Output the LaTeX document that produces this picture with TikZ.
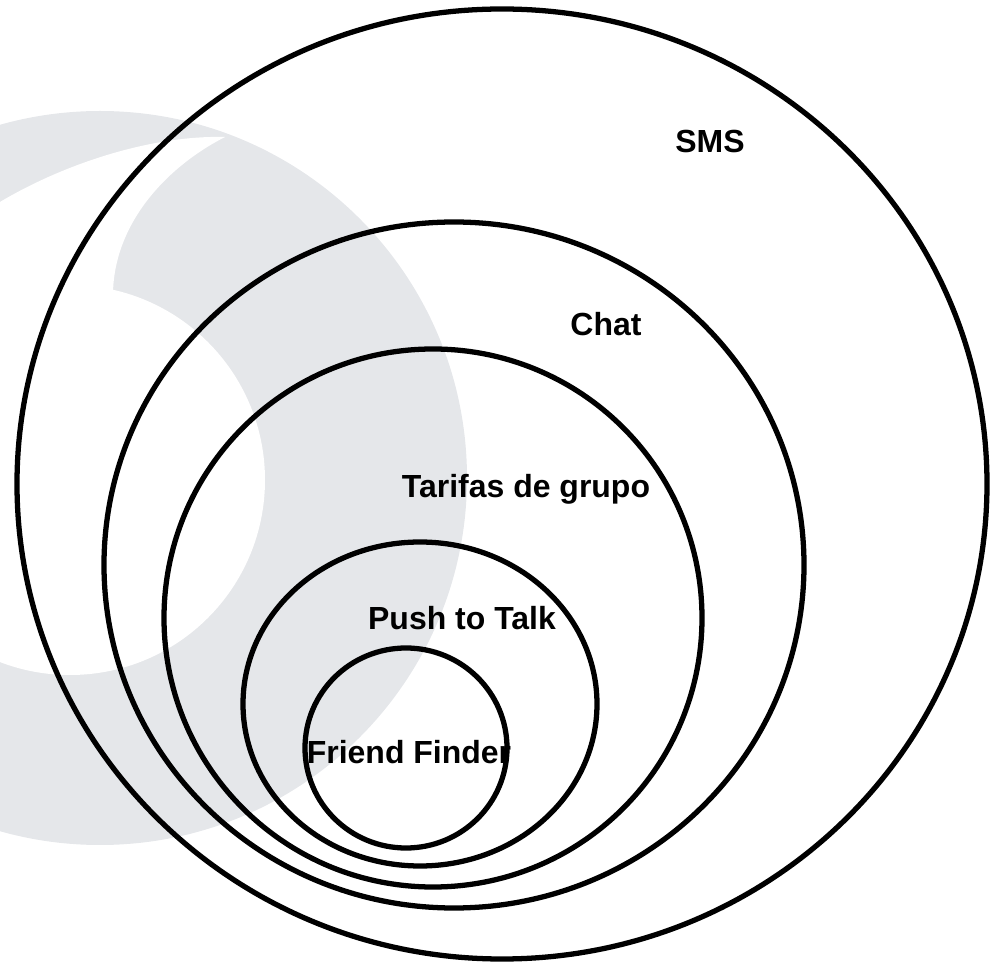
\documentclass[tikz,border=0pt]{standalone}
\usepackage{fontspec}
\setmainfont{Liberation Sans}
\definecolor{logogray}{RGB}{229,231,234}

\begin{document}
\begin{tikzpicture}[x=0.02cm, y=-0.02cm,
  ring/.style={line width=3pt, black},
  lbl/.style={font=\fontsize{18.2}{22}\selectfont\bfseries, inner sep=0pt, anchor=base}]
  \useasboundingbox (0,0) rectangle (998,962);

  % logo in the background
  \begin{scope}
    \clip (0,0) rectangle (998,962);
    \fill[logogray] (100,478) circle[radius=367];
    \fill[white] (70,480) circle[radius=195];
    \fill[white] (-5,205) .. controls (60,165) and (150,135) .. (225,137)
      .. controls (170,165) and (115,220) .. (113,292) -- (113,480) -- (-5,480) -- cycle;
  \end{scope}

  \coordinate (sms) at (502,484);
  \coordinate (chat) at (454,565);
  \coordinate (tarifas) at (433,618);
  \coordinate (ptt) at (420,704);
  \coordinate (finder) at (406,748);

  \draw[ring] (sms) ellipse (485 and 475);
  \draw[ring] (chat) ellipse (350 and 343);
  \draw[ring] (tarifas) ellipse (269 and 269);
  \draw[ring] (ptt) ellipse (177 and 162);
  \draw[ring] (finder) ellipse (101 and 100);

  \node[lbl] (smsl) at (710,153) {SMS};
  \node[lbl] (chatl) at (606,336) {Chat};
  \node[lbl] (tarifasl) at (526,498) {Tarifas de grupo};
  \node[lbl] (pttl) at (462,630) {Push to Talk};
  \node[lbl] (finderl) at (409,764) {Friend Finder};
\end{tikzpicture}
\end{document}
